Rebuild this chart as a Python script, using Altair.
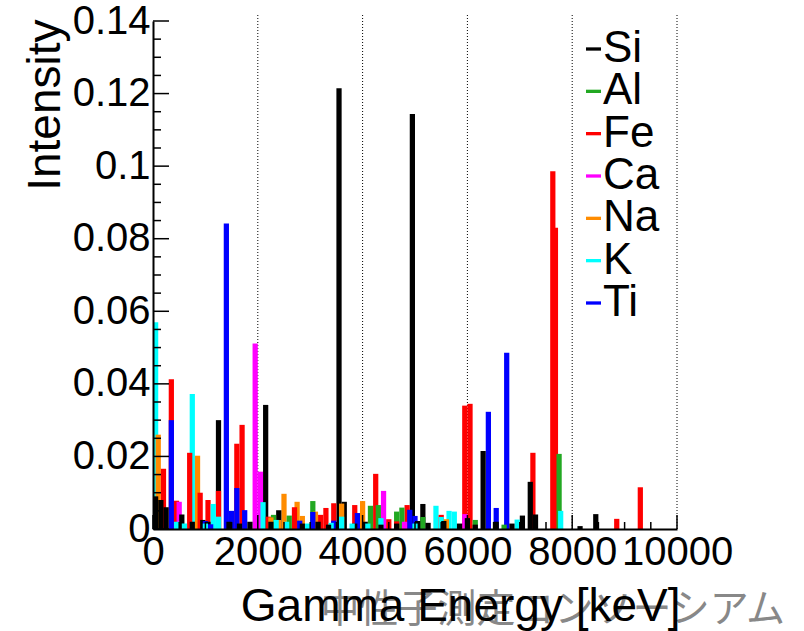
import altair as alt
import pandas as pd

FONT = "Liberation Sans"
CJK_FONT = "Noto Sans CJK JP"

ELEMENTS = ["Si", "Al", "Fe", "Ca", "Na", "K", "Ti"]
COLORS = ["#000000", "#22a822", "#ff0000", "#ff00ff", "#ff8c00", "#00ffff", "#0000ff"]

BIN_WIDTH = 100  # keV

# Gamma line intensities per element: bin centre energy [keV] and intensity
si_energy = [50, 150, 250, 550, 750, 950, 1050, 1250, 1450, 1650, 1850, 2150, 2250, 2400,
             2850, 3150, 3350, 3550, 3650, 3850, 4050, 4350, 4650, 4950, 5050, 5150, 5250,
             5550, 5850, 6000, 6150, 6300, 6550, 6850, 7050, 7200, 7300, 8150, 8450]
si_value = [0.009, 0.008, 0.006, 0.004, 0.002, 0.0025, 0.002, 0.030, 0.002, 0.0015, 0.002,
            0.0342, 0.002, 0.0052, 0.0015, 0.002, 0.0012, 0.1215, 0.0075, 0.0015, 0.002,
            0.0012, 0.0015, 0.1144, 0.0022, 0.0069, 0.0017, 0.0022, 0.0015, 0.003, 0.0012,
            0.0215, 0.002, 0.0015, 0.0037, 0.013, 0.004, 0.0008, 0.0041]

al_energy = [2300, 2600, 3050, 4150, 4300, 4650, 4750, 5150, 6150, 6700, 7750]
al_value = [0.0039, 0.0037, 0.0077, 0.0064, 0.0066, 0.0048, 0.0059, 0.0033, 0.0025, 0.0012, 0.0207]

fe_energy = [200, 350, 450, 700, 900, 1050, 1250, 1600, 1700, 2200, 2700, 3200, 3300, 3450,
             3850, 4250, 4500, 4650, 4850, 5500, 5950, 6050, 7250, 7630, 7680, 8850, 9300]
fe_value = [0.0166, 0.0413, 0.0078, 0.021, 0.010, 0.008, 0.0105, 0.0235, 0.0287, 0.0034,
            0.006, 0.0039, 0.0058, 0.0071, 0.0066, 0.0152, 0.0027, 0.0021, 0.0066, 0.0039,
            0.034, 0.0345, 0.021, 0.0986, 0.083, 0.0028, 0.0115]

ca_energy = [500, 1950, 2050, 4400, 4800, 5950]
ca_value = [0.0075, 0.0511, 0.0158, 0.0105, 0.002, 0.0041]

na_energy = [100, 850, 2250, 2400, 2500, 2750, 2850, 3100, 3600, 4000, 5600]
na_value = [0.026, 0.0202, 0.0032, 0.0025, 0.0097, 0.0075, 0.0036, 0.0048, 0.007, 0.0077, 0.0027]

k_energy = [50, 450, 600, 750, 1000, 1150, 1250, 2100, 2350, 2550, 2950, 3400, 3600, 3800,
            4100, 4350, 5000, 5400, 5500, 5650, 5750, 6950, 7780]
k_value = [0.057, 0.002, 0.0015, 0.0372, 0.0015, 0.0069, 0.0034, 0.0074, 0.0025, 0.002,
           0.0015, 0.0017, 0.0034, 0.0015, 0.0015, 0.003, 0.0015, 0.0064, 0.0033, 0.005,
           0.0048, 0.0026, 0.005]

ti_energy = [350, 1000, 1100, 1400, 1500, 1600, 1750, 2800, 3050, 3450, 3900, 4900, 5000,
             6400, 6550, 6750]
ti_value = [0.030, 0.0022, 0.0013, 0.0842, 0.005, 0.0113, 0.0052, 0.0023, 0.0047, 0.0023,
            0.0044, 0.0053, 0.0036, 0.0323, 0.0058, 0.0486]

# Axis tick positions
x_major = [0, 2000, 4000, 6000, 8000, 10000]
x_minor = [500, 1000, 1500, 2500, 3000, 3500, 4500, 5000, 5500, 6500, 7000, 7500, 8500, 9000, 9500]
y_major = [0, 0.02, 0.04, 0.06, 0.08, 0.10, 0.12, 0.14]
y_minor = [0.005, 0.01, 0.015, 0.025, 0.03, 0.035, 0.045, 0.05, 0.055, 0.065, 0.07, 0.075,
           0.085, 0.09, 0.095, 0.105, 0.11, 0.115, 0.125, 0.13, 0.135]

WATERMARK = "中性子測定コンソーシアム"

W, H = 524, 508

series = {
    "Si": (si_energy, si_value), "Al": (al_energy, al_value), "Fe": (fe_energy, fe_value),
    "Ca": (ca_energy, ca_value), "Na": (na_energy, na_value), "K": (k_energy, k_value),
    "Ti": (ti_energy, ti_value),
}
rows = []
for el, (es, vs) in series.items():
    for e, v in zip(es, vs):
        rows.append({"el": el, "lo": e - BIN_WIDTH / 2, "hi": e + BIN_WIDTH / 2, "value": v})
bars_df = pd.DataFrame(rows).sort_values("value", ascending=False).reset_index(drop=True)

XS = alt.Scale(domain=[0, 10000], nice=False, zero=False)
YS = alt.Scale(domain=[0, 0.14], nice=False, zero=False)
CS = alt.Scale(domain=ELEMENTS, range=COLORS)

X_AX = alt.Axis(values=x_major, format="d", ticks=False, grid=False, domainColor="black",
                domainWidth=2, labelFontSize=40, labelFont=FONT, labelColor="black",
                labelPadding=3, labelFlush=False, labelOverlap=False,
                title="Gamma Energy [keV]", titleFont=FONT, titleFontSize=46,
                titleFontWeight="normal", titleColor="black", titleAlign="right",
                titleBaseline="middle", titleX=W + 3, titleY=77, zindex=1)
Y_AX = alt.Axis(values=y_major, format=".2~f", ticks=False, grid=False, domainColor="black",
                domainWidth=2, labelFontSize=40, labelFont=FONT, labelColor="black",
                labelPadding=3, labelFlush=False, labelOverlap=False,
                title="Intensity", titleFont=FONT, titleFontSize=46, titleFontWeight="normal",
                titleColor="black", titleAngle=-90, titleAlign="right", titleBaseline="middle",
                titleX=-108, titleY=-2, zindex=1)

grid = alt.Chart(pd.DataFrame({"e": x_major[1:]})).mark_rule(
    color="black", strokeWidth=1, strokeDash=[1, 2]
).encode(x=alt.X("e:Q", scale=XS, axis=X_AX), y=alt.value(-6), y2=alt.value(H))

bars = alt.Chart(bars_df).mark_rect(strokeWidth=0).encode(
    x=alt.X("lo:Q", scale=XS, axis=X_AX),
    x2="hi:Q",
    y=alt.Y("value:Q", scale=YS, axis=Y_AX),
    y2=alt.datum(0),
    color=alt.Color("el:N", scale=CS, legend=None),
    order=alt.Order("value:Q", sort="descending"),
)

y_major_ticks = alt.Chart(pd.DataFrame({"v": y_major})).mark_rule(color="black", strokeWidth=1.5).encode(
    y=alt.Y("v:Q", scale=YS, axis=Y_AX), x=alt.value(0), x2=alt.value(16))
y_minor_ticks = alt.Chart(pd.DataFrame({"v": y_minor})).mark_rule(color="black", strokeWidth=1.5).encode(
    y=alt.Y("v:Q", scale=YS, axis=Y_AX), x=alt.value(0), x2=alt.value(8))
x_major_ticks = alt.Chart(pd.DataFrame({"e": x_major})).mark_rule(color="black", strokeWidth=1.5).encode(
    x=alt.X("e:Q", scale=XS, axis=X_AX), y=alt.value(H), y2=alt.value(H - 14))
x_minor_ticks = alt.Chart(pd.DataFrame({"e": x_minor})).mark_rule(color="black", strokeWidth=1.5).encode(
    x=alt.X("e:Q", scale=XS, axis=X_AX), y=alt.value(H), y2=alt.value(H - 7))

watermark = alt.Chart(pd.DataFrame({"t": [WATERMARK]})).mark_text(
    font=CJK_FONT, fontSize=39, color="#888888", align="right", baseline="middle"
).encode(text="t:N", x=alt.value(632), y=alt.value(589))

# Legend box in the upper right: short coloured line + element name per row
legend_df = pd.DataFrame({"el": ELEMENTS})
LEG_Y = alt.Y("el:N", scale=alt.Scale(type="point", domain=ELEMENTS, range=[28, 282], padding=0),
              axis=None)
legend_marks = alt.Chart(legend_df).mark_rule(strokeWidth=3.3).encode(
    y=LEG_Y, x=alt.value(433), x2=alt.value(448),
    color=alt.Color("el:N", scale=CS, legend=None))
legend_text = alt.Chart(legend_df).mark_text(
    font=FONT, fontSize=44, color="black", align="left", baseline="middle"
).encode(y=LEG_Y, x=alt.value(450), text="el:N")
legend_layer = alt.layer(legend_marks, legend_text)

plot_layer = alt.layer(
    grid, bars, y_major_ticks, y_minor_ticks, x_major_ticks, x_minor_ticks, watermark
)

chart = alt.layer(plot_layer, legend_layer).resolve_scale(y="independent").properties(
    width=W, height=H,
    padding={"left": 153, "top": 21, "right": 127, "bottom": 102},
    autosize=alt.AutoSizeParams(type="none"),
    background="white",
).configure_view(stroke=None)

chart.save("out.html", embed_options={"renderer": "svg", "actions": False})
